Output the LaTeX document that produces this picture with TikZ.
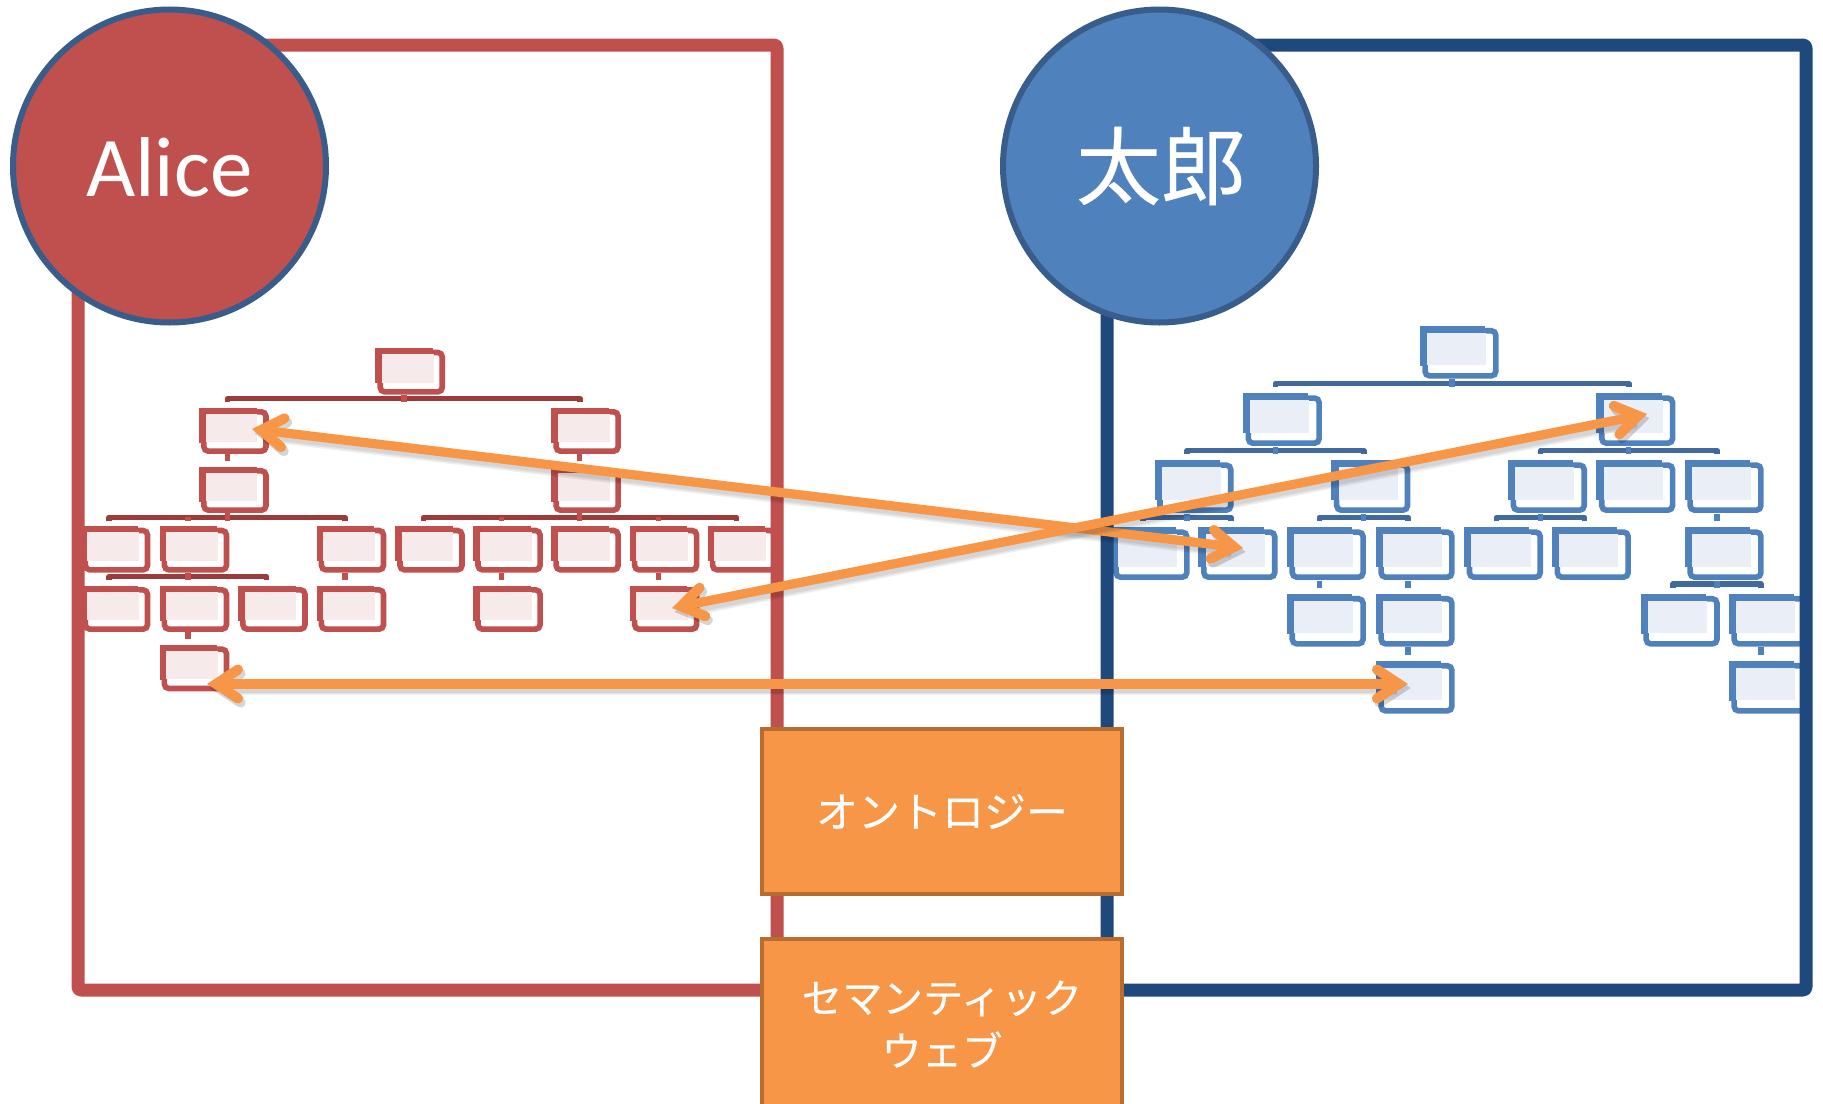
\documentclass[tikz,border=0pt]{standalone}
\usepackage{fontspec}
\setmainfont{Carlito}
\newfontfamily\cjk[FakeBold=0.3]{Noto Sans CJK JP}
\usetikzlibrary{arrows.meta}
\definecolor{redc}{HTML}{C0504D}
\definecolor{redl}{HTML}{F6EAEA}
\definecolor{redb}{HTML}{9B3C3A}
\definecolor{bluec}{HTML}{4F81BD}
\definecolor{bluel}{HTML}{EAEFF7}
\definecolor{blueb}{HTML}{41699B}
\definecolor{navy}{HTML}{1F497D}
\definecolor{ring}{HTML}{385D8A}
\definecolor{orangef}{HTML}{F79646}
\definecolor{oranged}{HTML}{B66D31}
\tikzset{
  frameline/.style={line width=6.5pt,line join=round,rounded corners=1.5pt},
  person/.style={circle,draw=ring,line width=3pt,minimum size=156.5pt,inner sep=0pt,text=white},
  term/.style={rectangle,draw=oranged,fill=orangef,line width=2.4pt,minimum width=180pt,text=white,align=center},
  boxline/.style={draw=boxc,fill=white,line width=2.8pt,rounded corners=2.2pt},
  stub/.style={draw=boxc,line width=2.7pt},
  brace/.style={draw=brc,line width=2.8pt,line join=round},
  barbs/.style={{Straight Barb[length=11pt,width=14.5pt,line width=5pt,line cap=round,line join=miter]}-{Straight Barb[length=11pt,width=14.5pt,line width=5pt,line cap=round,line join=miter]}},
  link/.style={draw=orangef,line width=4.6pt,barbs},
  linkshadow/.style={draw=black,opacity=.06,barbs,transform canvas={xshift=1.3pt,yshift=-2pt}}
}
\newcommand\bxs{1}
\newcommand\bys{1}
\newcommand\orgbox[3]{%
  \begin{scope}[shift={(#2,#3)},xscale=\bxs,yscale=\bys]
    \coordinate (#1-s) at (62,140);
    \coordinate (#1-t) at (62,-17);
    \path[boxline] (10.4,12.5) rectangle (145.6,130.5);
    \fill[boxc] (0,0) rectangle (125,18);
    \fill[boxc] (0,0) rectangle (14,105);
    \fill[boxl] (14,18) rectangle (127,103);
  \end{scope}}
\newcommand\bracket[3]{%
  \draw[brace] (#2-t) -- ++(0,-10) -| (#3-t);
  \draw[stub] (#1-s) -- (#1-s |- #2-t);}
\newcommand\tick[1]{\draw[stub] (#1-t) -- ++(0,-10);}
\newcommand\linkline[2]{%
  \foreach \w in {4.6,6,7.4}{\draw[linkshadow,line width=\w pt] (#1) -- (#2);}
  \draw[link] (#1) -- (#2);}
\begin{document}
\begin{tikzpicture}[x=0.5pt,y=-0.5pt]
\clip (0,0) rectangle (1823,1103);
% left tree
\begin{scope}[shift={(60,330)},x=0.22957pt,y=-0.16667pt]
  \colorlet{boxc}{redc}\colorlet{boxl}{redl}\colorlet{brc}{redb}
  \orgbox{L0}{687}{55}
  \orgbox{L1a}{303}{233}\orgbox{L1b}{1070}{233}
  \orgbox{L2a}{303}{410}\orgbox{L2b}{1070}{410}
  \orgbox{L3a}{45}{589}\orgbox{L3b}{217}{589}\orgbox{L3c}{559}{589}\orgbox{L3d}{730}{589}
  \orgbox{L3e}{900}{589}\orgbox{L3f}{1070}{589}\orgbox{L3g}{1241}{589}\orgbox{L3h}{1411}{589}
  \orgbox{L4a}{45}{767}\orgbox{L4b}{217}{767}\orgbox{L4c}{388}{767}\orgbox{L4d}{559}{767}
  \orgbox{L4e}{900}{767}\orgbox{L4f}{1241}{767}
  \orgbox{L5}{217}{945}
  \bracket{L0}{L1a}{L1b}
  \draw[stub] (L1a-s) -- (L2a-t);
  \draw[stub] (L1b-s) -- (L2b-t);
  \bracket{L2a}{L3a}{L3c}\tick{L3b}
  \bracket{L2b}{L3d}{L3h}\tick{L3e}\tick{L3f}\tick{L3g}
  \bracket{L3b}{L4a}{L4c}
  \draw[stub] (L3c-s) -- (L4d-t);
  \draw[stub] (L3e-s) -- (L4e-t);
  \draw[stub] (L3g-s) -- (L4f-t);
  \draw[stub] (L4b-s) -- (L5-t);
\end{scope}
% right tree
\begin{scope}[shift={(1090,310)},x=0.23375pt,y=-0.16667pt]
  \colorlet{boxc}{bluec}\colorlet{boxl}{bluel}\colorlet{brc}{blueb}
  \renewcommand\bxs{1.12}\renewcommand\bys{1.145}
  \orgbox{R0}{705}{48}
  \orgbox{R1a}{327}{250}\orgbox{R1b}{1083}{250}
  \orgbox{R2a}{138}{451}\orgbox{R2b}{516}{451}\orgbox{R2c}{894}{451}\orgbox{R2d}{1083}{451}\orgbox{R2e}{1272}{451}
  \orgbox{R3a}{44}{652}\orgbox{R3b}{232}{652}\orgbox{R3c}{421}{652}\orgbox{R3d}{611}{652}
  \orgbox{R3e}{800}{652}\orgbox{R3f}{988}{652}\orgbox{R3g}{1272}{652}
  \orgbox{R4a}{421}{852}\orgbox{R4b}{611}{852}\orgbox{R4c}{1178}{852}\orgbox{R4d}{1366}{852}
  \orgbox{R5a}{611}{1053}\orgbox{R5b}{1366}{1053}
  \bracket{R0}{R1a}{R1b}
  \bracket{R1a}{R2a}{R2b}
  \bracket{R1b}{R2c}{R2e}\tick{R2d}
  \bracket{R2a}{R3a}{R3b}
  \bracket{R2b}{R3c}{R3d}
  \bracket{R2c}{R3e}{R3f}
  \draw[stub] (R2e-s) -- (R3g-t);
  \draw[stub] (R3c-s) -- (R4a-t);
  \draw[stub] (R3d-s) -- (R4b-t);
  \bracket{R3g}{R4c}{R4d}
  \draw[stub] (R4b-s) -- (R5a-t);
  \draw[stub] (R4d-s) -- (R5b-t);
\end{scope}
% frames
\draw[frameline,draw=redc] (78,45) rectangle (777,990);
\draw[frameline,draw=navy] (1107,45) rectangle (1806,990);
% people
\node[person,fill=redc,font=\fontsize{42.5pt}{50pt}\selectfont,text height=30.2pt,text depth=0pt] (alice) at (169.5,166) {Alice};
\node[person,fill=bluec,font=\cjk\fontsize{42.5pt}{50pt}\selectfont] (taro) at (1159.5,166) {\hspace*{1.5pt}太郎};
% terms
\node[term,minimum height=82.5pt,font=\cjk\fontsize{21pt}{26.5pt}\selectfont] (onto) at (942,811.5) {オントロジー};
\node[term,minimum height=85pt,font=\cjk\fontsize{20.2pt}{26.5pt}\selectfont] (web) at (942,1024) {セマンティック\\ウェブ};
% links
\coordinate (a1) at (252,429);
\coordinate (b1) at (1243,548);
\coordinate (a2) at (672,608);
\coordinate (b2) at (1647,414);
\coordinate (a3) at (207,684);
\coordinate (b3) at (1408,684);
\linkline{a1}{b1}
\linkline{a2}{b2}
\linkline{a3}{b3}
\end{tikzpicture}
\end{document}
